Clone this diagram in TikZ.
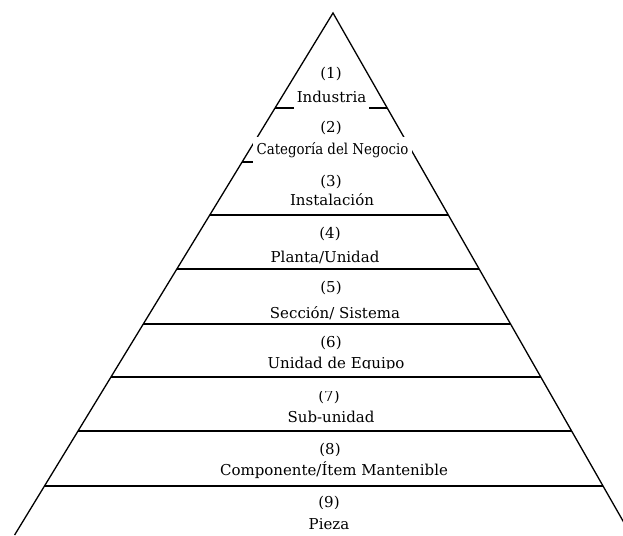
\documentclass[tikz,border=0pt]{standalone}
\usepackage{fontspec}
\setmainfont{DejaVu Serif}
\begin{document}
\begin{tikzpicture}[x=1pt,y=-1pt,
  edge/.style={line width=1.3pt},
  divider/.style={line width=1.7pt},
  lbl/.style={font=\fontsize{15}{17}\selectfont, inner sep=0pt},
  mask/.style={lbl, fill=white, inner xsep=3pt, minimum height=26pt}]
\useasboundingbox (0,0) rectangle (623,535);
\clip (0,0) rectangle (623,535);
\coordinate (apex) at (333,13);
\coordinate (bl) at (14.6,535);
\coordinate (br) at (631,535);
\draw[edge] (bl) -- (apex) -- (br);
\foreach \y in {108,215,269,324,377,431,486} {
  \draw[divider] ({333-0.61*(\y-13)},\y) -- ({333+0.571*(\y-13)},\y);
}
\draw[divider] ({333-0.61*(162-13)},162) -- (400,162);
% level 1
\node[lbl] (n1) at (331,74) {(1)};
\node[mask] (t1) at (331.5,97) {Industria};
% level 2
\node[lbl] (n2) at (331,128) {(2)};
\node[mask, inner xsep=4pt] (t2) at (332.5,150) {\addfontfeature{FakeStretch=0.89}Categoría del Negocio};
% level 3
\node[lbl] (n3) at (331,182) {(3)};
\node[lbl] (t3) at (332,200) {Instalación};
% level 4
\node[lbl] (n4) at (330,234) {(4)};
\node[lbl] (t4) at (325,257) {Planta/Unidad};
% level 5
\node[lbl] (n5) at (331,288) {(5)};
\node[lbl] (t5) at (335,313) {Sección/ Sistema};
% level 6
\node[lbl] (n6) at (331,343) {(6)};
\begin{scope}
\clip (0,0) rectangle (623,368.5);
\node[lbl] (t6) at (336,364) {Unidad de Equipo};
\end{scope}
% level 7
\begin{scope}
\clip (0,391) rectangle (623,403);
\node[lbl] (n7) at (329,397) {(7)};
\end{scope}
\node[lbl] (t7) at (331,417) {Sub-unidad};
% level 8
\begin{scope}
\clip (0,430) rectangle (623,455.5);
\node[lbl] (n8) at (330,450) {(8)};
\end{scope}
\node[lbl] (t8) at (334,470) {Componente/Ítem Mantenible};
% level 9
\begin{scope}
\clip (0,486) rectangle (623,508);
\node[lbl] (n9) at (329,503) {(9)};
\end{scope}
\node[lbl] (t9) at (329,524) {Pieza};
\end{tikzpicture}
\end{document}
